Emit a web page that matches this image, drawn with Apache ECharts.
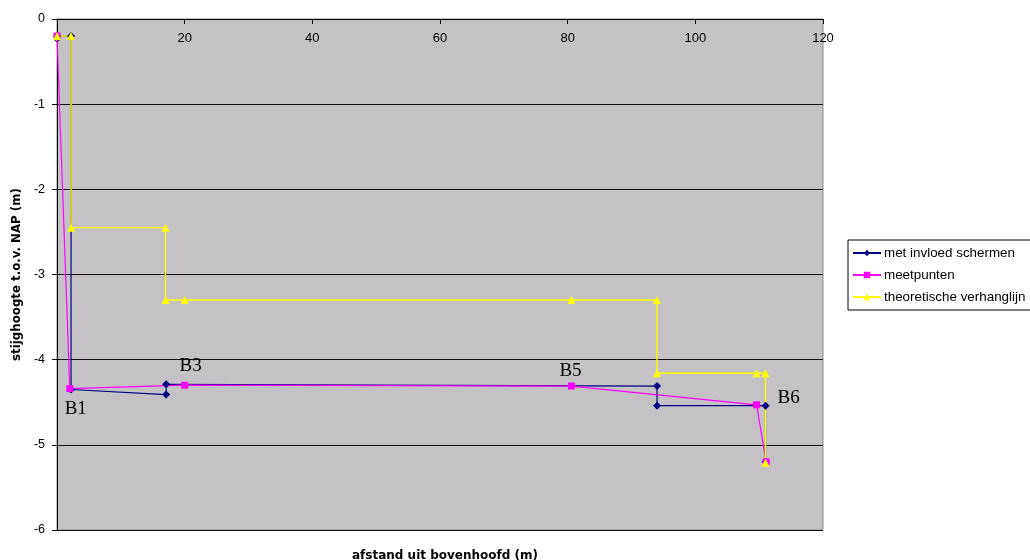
<!DOCTYPE html>
<html>
<head>
<meta charset="utf-8">
<script src="https://cdn.jsdelivr.net/npm/echarts@6/dist/echarts.min.js"></script>
<style>
  html, body { margin: 0; padding: 0; background: #fff; }
  #chart { width: 1030px; height: 560px; }
</style>
</head>
<body>
<div id="chart"></div>
<script>
// afstand (m) en stijghoogte (m t.o.v. NAP) per lijn
const schermenX = [0, 2.2, 2.2, 17.1, 17.1, 94.0, 94.0, 111.0, 111.0];
const schermenY = [-0.2, -0.2, -4.35, -4.41, -4.29, -4.31, -4.54, -4.54, -5.2];

const meetX = [0, 2.0, 20.0, 80.6, 109.6, 111.1];
const meetY = [-0.2, -4.34, -4.30, -4.31, -4.53, -5.2];

const theorieX = [0, 2.2, 2.2, 17.0, 17.0, 20.0, 80.6, 94.0, 94.0, 109.6, 111.0, 111.0];
const theorieY = [-0.2, -0.2, -2.45, -2.45, -3.3, -3.3, -3.3, -3.3, -4.16, -4.16, -4.16, -5.21];

const xTicks = [0, 20, 40, 60, 80, 100, 120];
const yTicks = [0, -1, -2, -3, -4, -5, -6];

// peilbuizen, gekoppeld aan een meetpunt: [serie, index, naam]
const peilbuizen = [
  ['meet', 1, 'B1'],
  ['meet', 2, 'B3'],
  ['meet', 3, 'B5'],
  ['schermen', 7, 'B6']
];
const labelOffsets = { B1: [6, 20], B3: [6, -19], B5: [-1, -15], B6: [23, -8] };

function pairs(xs, ys, key) {
  return xs.map((x, i) => {
    const item = { value: [x, ys[i]] };
    const hit = peilbuizen.find(p => p[0] === key && p[1] === i);
    if (hit) {
      item.label = {
        show: true,
        formatter: hit[2],
        position: 'inside',
        offset: labelOffsets[hit[2]],
        fontFamily: '"Liberation Serif", "Times New Roman", serif',
        fontSize: 19,
        color: '#000'
      };
    }
    return item;
  });
}

const boldFont = '"DejaVu Sans", Verdana, sans-serif';

const chart = echarts.init(document.getElementById('chart'), null, { renderer: 'canvas' });

chart.setOption({
  animation: false,
  backgroundColor: '#ffffff',
  textStyle: { fontFamily: '"Liberation Sans", Arial, sans-serif' },
  title: {
    text: 'afstand uit bovenhoofd (m)',
    left: 440,
    top: 545,
    textAlign: 'center',
    textStyle: { fontSize: 12, fontWeight: 'bold', color: '#000', fontFamily: boldFont }
  },
  grid: {
    left: 57, top: 19, width: 766, height: 511,
    outerBoundsMode: 'none',
    containLabel: false,
    show: true,
    backgroundColor: '#c4c2c5',
    borderColor: '#8a8a8a',
    borderWidth: 1
  },
  legend: {
    orient: 'vertical',
    left: 848,
    top: 240,
    padding: [6, 6, 6, 4],
    itemGap: 8,
    itemWidth: 28,
    itemHeight: 8,
    backgroundColor: '#fff',
    borderColor: '#000',
    borderWidth: 1,
    borderRadius: 0,
    textStyle: { fontSize: 13.4, color: '#000', lineHeight: 14, padding: [0, 0, 0, -2] },
    data: ['met invloed schermen', 'meetpunten', 'theoretische verhanglijn']
  },
  xAxis: {
    type: 'value',
    position: 'top',
    min: 0, max: 120, interval: 20,
    axisLine: { show: true, onZero: false, lineStyle: { color: '#000', width: 1 } },
    axisTick: { show: true, inside: true, length: 5, lineStyle: { color: '#000' } },
    axisLabel: {
      inside: true, margin: 13, fontSize: 13, color: '#000',
      formatter: v => xTicks.includes(v) ? String(v) : ''
    },
    splitLine: { show: false }
  },
  yAxis: {
    type: 'value',
    min: -6, max: 0, interval: 1,
    name: 'stijghoogte t.o.v. NAP (m)',
    nameLocation: 'middle',
    nameGap: 31,
    nameTextStyle: { fontSize: 11.8, fontWeight: 'bold', color: '#000', fontFamily: boldFont },
    axisLine: { show: true, onZero: false, lineStyle: { color: '#000', width: 1 } },
    axisTick: { show: true, inside: false, length: 5, lineStyle: { color: '#000' } },
    axisLabel: {
      margin: 12, fontSize: 12.5, color: '#000',
      formatter: v => yTicks.includes(v) ? String(v) : ''
    },
    splitLine: { show: true, lineStyle: { color: '#111', width: 1 } }
  },
  series: [
    {
      name: 'met invloed schermen',
      type: 'line',
      data: pairs(schermenX, schermenY, 'schermen'),
      symbol: 'diamond',
      symbolSize: 8,
      showAllSymbol: true,
      color: '#000080',
      lineStyle: { color: '#000080', width: 1.2 },
      itemStyle: { color: '#000080' }
    },
    {
      name: 'meetpunten',
      type: 'line',
      data: pairs(meetX, meetY, 'meet'),
      symbol: 'rect',
      symbolSize: 7,
      showAllSymbol: true,
      color: '#ff00ff',
      lineStyle: { color: '#ff00ff', width: 1.2 },
      itemStyle: { color: '#ff00ff' }
    },
    {
      name: 'theoretische verhanglijn',
      type: 'line',
      data: pairs(theorieX, theorieY, 'theorie'),
      symbol: 'triangle',
      symbolSize: 8,
      showAllSymbol: true,
      color: '#ffff00',
      lineStyle: { color: '#ffff00', width: 1.4 },
      itemStyle: { color: '#ffff00' }
    }
  ]
});
</script>
</body>
</html>
